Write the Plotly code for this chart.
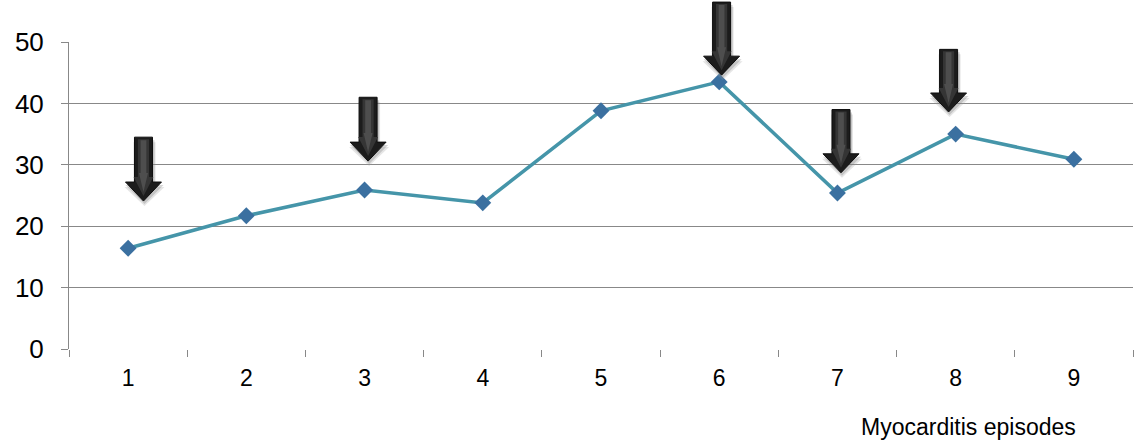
import plotly.graph_objects as go

# ---- data ----
episodes = [1, 2, 3, 4, 5, 6, 7, 8, 9]
values = [16.4, 21.7, 25.9, 23.8, 38.8, 43.5, 25.4, 35.0, 30.9]
y_ticks = [0, 10, 20, 30, 40, 50]
x_title = "Myocarditis episodes"

# arrows flagging episodes (position in episode units, tip value, top value)
arrow_pos = [1.13, 3.03, 6.02, 7.03, 7.94]
arrow_tip = [24.1, 30.6, 44.6, 28.7, 38.6]
arrow_top = [34.5, 41.0, 56.5, 39.0, 48.8]

W, H = 1146, 448
ML, MR, MT, MB = 69, 13, 42, 99
XR = [0.5, 9.5]
YR = [0, 50]
pw = W - ML - MR
ph = H - MT - MB

def px_x(xv):
    return (xv - XR[0]) / (XR[1] - XR[0])

def px_y(yv):
    return (yv - YR[0]) / (YR[1] - YR[0])

fig = go.Figure()
fig.add_trace(go.Scatter(
    x=episodes, y=values, mode="lines+markers",
    line=dict(color="#4595A9", width=3.5),
    marker=dict(symbol="diamond", size=13, color="#3B70A0",
                line=dict(width=0)),
    hoverinfo="x+y", showlegend=False,
))

shapes = []
shaft_hw = 9.0 / pw
head_hw = 18.0 / pw
head_h = 19.0 / ph

def arrow_path(cx, tip, top, sh_hw, hd_hw, dx=0.0, dy=0.0):
    cx += dx
    tip += dy
    top += dy
    hs = tip + head_h
    pts = [(cx - sh_hw, top), (cx + sh_hw, top), (cx + sh_hw, hs),
           (cx + hd_hw, hs), (cx, tip), (cx - hd_hw, hs), (cx - sh_hw, hs)]
    return "M " + " L ".join(f"{a:.5f},{b:.5f}" for a, b in pts) + " Z"

for xp, tv, tp in zip(arrow_pos, arrow_tip, arrow_top):
    cx = px_x(xp)
    tip = px_y(tv)
    top = px_y(tp)
    # soft shadow
    shapes.append(dict(type="path", xref="paper", yref="paper",
                       path=arrow_path(cx, tip, top, shaft_hw + 2 / pw, head_hw + 2 / pw,
                                       dx=1 / pw, dy=-5 / ph),
                       fillcolor="rgba(150,150,150,0.25)", line=dict(width=0), layer="above"))
    shapes.append(dict(type="path", xref="paper", yref="paper",
                       path=arrow_path(cx, tip, top, shaft_hw + 1 / pw, head_hw + 1 / pw,
                                       dx=1 / pw, dy=-3 / ph),
                       fillcolor="rgba(120,120,120,0.3)", line=dict(width=0), layer="above"))
    # main body
    shapes.append(dict(type="path", xref="paper", yref="paper",
                       path=arrow_path(cx, tip, top, shaft_hw, head_hw),
                       fillcolor="#1c1c1c", line=dict(color="#0e0e0e", width=1), layer="above"))
    # lighter inner gradient bands
    shapes.append(dict(type="path", xref="paper", yref="paper",
                       path=arrow_path(cx, tip + 5 / ph, top - 2 / ph, shaft_hw * 0.62, head_hw * 0.55),
                       fillcolor="#353535", line=dict(width=0), layer="above"))
    shapes.append(dict(type="path", xref="paper", yref="paper",
                       path=arrow_path(cx, tip + 9 / ph, top - 3 / ph, shaft_hw * 0.32, head_hw * 0.25),
                       fillcolor="#4e4e4e", line=dict(width=0), layer="above"))

fig.update_layout(
    width=W, height=H,
    margin=dict(l=ML, r=MR, t=MT, b=MB),
    paper_bgcolor="white", plot_bgcolor="white",
    font=dict(family="Liberation Sans, Arial, sans-serif", color="#000000"),
    xaxis=dict(
        range=XR, tickmode="array", tickvals=episodes,
        ticktext=[str(e) for e in episodes],
        ticks="", showgrid=False, zeroline=False,
        showline=False,
        tickfont=dict(size=23),
        ticklabelstandoff=13,
        minor=dict(tick0=0.5, dtick=1, ticks="outside", ticklen=7,
                   tickcolor="#888888", tickwidth=1, showgrid=False),
    ),
    yaxis=dict(
        range=YR, tickmode="array", tickvals=y_ticks,
        ticks="outside", ticklen=7, tickcolor="#888888", tickwidth=1,
        showgrid=True, gridcolor="#888888", gridwidth=1,
        zeroline=False, showline=True, linecolor="#888888", linewidth=1,
        tickfont=dict(size=26),
        ticklabelstandoff=12,
    ),
    shapes=shapes,
    annotations=[dict(text=x_title, xref="paper", yref="paper",
                      x=(1078 - ML) / pw, y=-(427 - (MT + ph)) / ph,
                      xanchor="right", yanchor="middle", showarrow=False,
                      font=dict(size=23, color="#000000"))],
)

fig.write_html("out.html", config={"displayModeBar": False},
               post_script="document.body.style.margin='0';")
